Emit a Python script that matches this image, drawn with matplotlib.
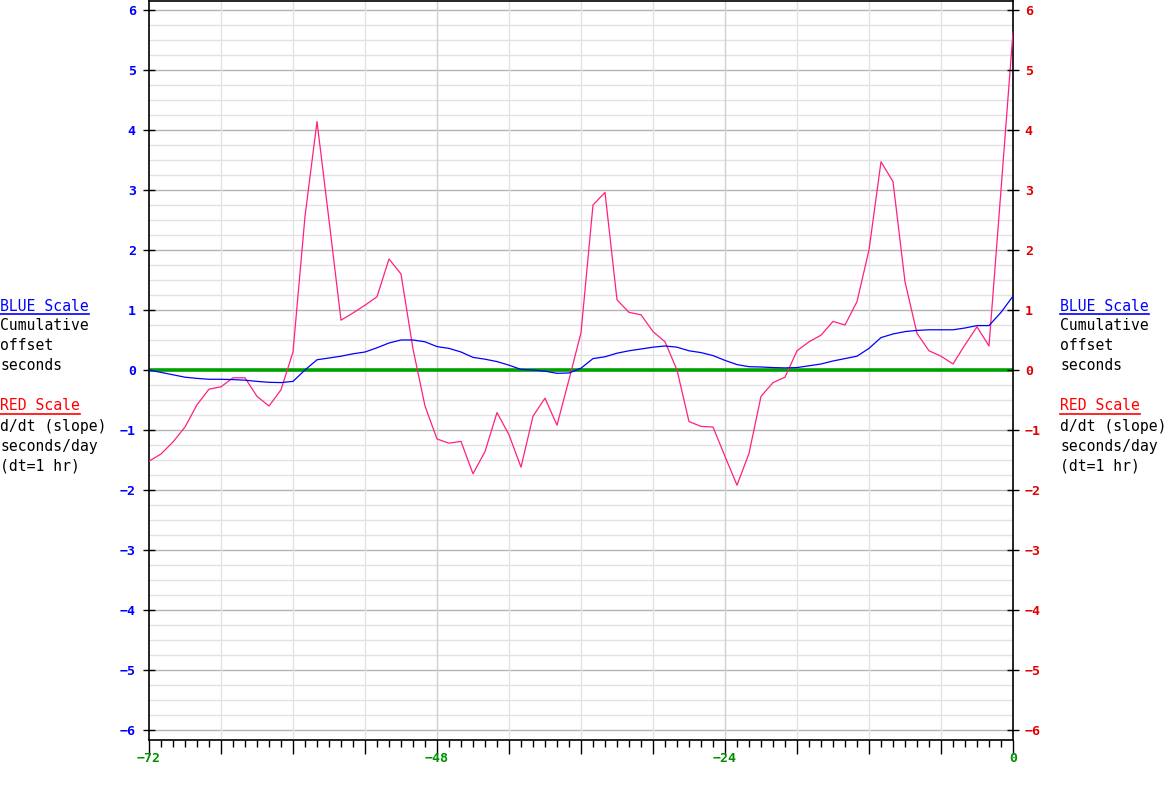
import matplotlib
matplotlib.use('Agg')
import matplotlib.pyplot as plt
from matplotlib.lines import Line2D
from matplotlib.ticker import MultipleLocator, FuncFormatter
import numpy as np

# hours before now, one sample per hour
hours = np.arange(-72, 1)

# cumulative offset, seconds (blue scale)
offset = [0.0, -0.04, -0.08, -0.12, -0.14, -0.155, -0.155, -0.16, -0.17, -0.19,
          -0.205, -0.21, -0.19, 0.0, 0.17, 0.2, 0.23, 0.27, 0.3, 0.37,
          0.45, 0.5, 0.5, 0.47, 0.39, 0.36, 0.3, 0.21, 0.18, 0.14,
          0.08, 0.01, 0.0, -0.02, -0.055, -0.05, 0.03, 0.19, 0.22, 0.28,
          0.32, 0.35, 0.38, 0.4, 0.38, 0.32, 0.29, 0.24, 0.16, 0.09,
          0.055, 0.05, 0.04, 0.035, 0.04, 0.07, 0.1, 0.15, 0.19, 0.23,
          0.36, 0.54, 0.6, 0.64, 0.66, 0.67, 0.67, 0.67, 0.7, 0.74,
          0.74, 0.96, 1.23]

# slope d/dt, seconds/day (red scale)
slope = [-1.52, -1.40, -1.20, -0.95, -0.58, -0.32, -0.28, -0.13, -0.13, -0.44,
         -0.60, -0.33, 0.30, 2.56, 4.14, 2.5, 0.83, 0.95, 1.08, 1.22,
         1.85, 1.6, 0.35, -0.6, -1.15, -1.22, -1.19, -1.73, -1.36, -0.71,
         -1.08, -1.62, -0.77, -0.47, -0.92, -0.16, 0.62, 2.75, 2.96, 1.17,
         0.96, 0.92, 0.64, 0.47, 0.0, -0.86, -0.94, -0.95, -1.44, -1.92,
         -1.39, -0.44, -0.21, -0.12, 0.32, 0.47, 0.58, 0.81, 0.75, 1.14,
         2.0, 3.47, 3.14, 1.47, 0.61, 0.32, 0.23, 0.1, 0.42, 0.72,
         0.40, 3.0, 5.63]

x_labels = [-72, -48, -24, 0]
y_ticks = np.arange(-6, 7)

W, H = 1175, 790
fig = plt.figure(figsize=(W / 100, H / 100), dpi=100)
ax = fig.add_axes([149 / W, 50 / H, (1013 - 149) / W, (740 - 1) / H])
ax.set_xlim(-72, 0)
ax.set_ylim(-6.167, 6.15)

tick_font = 'DejaVu Sans Mono'
side_font = 'DejaVu Sans Mono'

# grid
for v in np.arange(-6, 6.01, 0.25):
    if abs(v - round(v)) < 1e-9:
        ax.axhline(v, color='#b4b4b4', lw=1.0, zorder=0)
    else:
        ax.axhline(v, color='#e2e2e2', lw=1.0, zorder=0)
for h in range(-66, 0, 6):
    c = '#d0d0d0' if h % 24 == 0 else '#e2e2e2'
    ax.axvline(h, color=c, lw=1.0, zorder=0)

ax.axhline(0, color='#00a000', lw=2.6, zorder=2)
ax.plot(hours, slope, color='#ff2080', lw=0.9, zorder=3)
ax.plot(hours, offset, color='#0000ff', lw=0.9, zorder=4)

for s in ax.spines.values():
    s.set_color('black')
    s.set_linewidth(1.2)

# x axis ticks
ax.xaxis.set_major_locator(MultipleLocator(6))
ax.xaxis.set_minor_locator(MultipleLocator(1))
ax.xaxis.set_major_formatter(FuncFormatter(
    lambda v, p: '\u2212%d' % -v if int(round(v)) in x_labels and v < 0
    else ('0' if int(round(v)) == 0 else '')))
ax.tick_params(axis='x', which='major', direction='out', length=10, width=1,
               color='black', labelcolor='#009000', pad=-1)
ax.tick_params(axis='x', which='minor', direction='out', length=5, width=1,
               color='black')
for t in ax.get_xticklabels():
    t.set_fontfamily(tick_font)
    t.set_fontweight('bold')
    t.set_fontsize(9.5)

# y axis ticks, both sides
ax.set_yticks(y_ticks)
ax.tick_params(axis='y', direction='inout', length=8, width=1, color='black',
               labelcolor='#0000ff', pad=5.5)
for t in ax.get_yticklabels():
    t.set_fontfamily(tick_font)
    t.set_fontweight('bold')
    t.set_fontsize(9.5)

ax2 = ax.twinx()
ax2.set_ylim(ax.get_ylim())
ax2.set_yticks(y_ticks)
ax2.tick_params(axis='y', direction='inout', length=8, width=1, color='black',
                labelcolor='#e00000', pad=4.5)
for t in ax2.get_yticklabels():
    t.set_fontfamily(tick_font)
    t.set_fontweight('bold')
    t.set_fontsize(9.5)
for s in ax2.spines.values():
    s.set_visible(False)

# side legends
lines = [('BLUE Scale', '#0000ff', True), ('Cumulative', 'black', False),
         ('offset', 'black', False), ('seconds', 'black', False),
         (None, None, False),
         ('RED Scale', '#ff0000', True), ('d/dt (slope)', 'black', False),
         ('seconds/day', 'black', False), ('(dt=1 hr)', 'black', False)]

for x0 in (0, 1060):
    y = 306
    for txt, col, ul in lines:
        if txt is not None:
            fig.text(x0 / W, 1 - y / H, txt, color=col, fontsize=10.6,
                     family=side_font, ha='left', va='center')
            if ul:
                w = len(txt) * 8.87
                fig.add_artist(Line2D([x0 / W, (x0 + w) / W],
                                      [1 - (y + 8) / H, 1 - (y + 8) / H],
                                      color=col, lw=1.2))
        y += 20

fig.savefig('out.png', dpi=100)
